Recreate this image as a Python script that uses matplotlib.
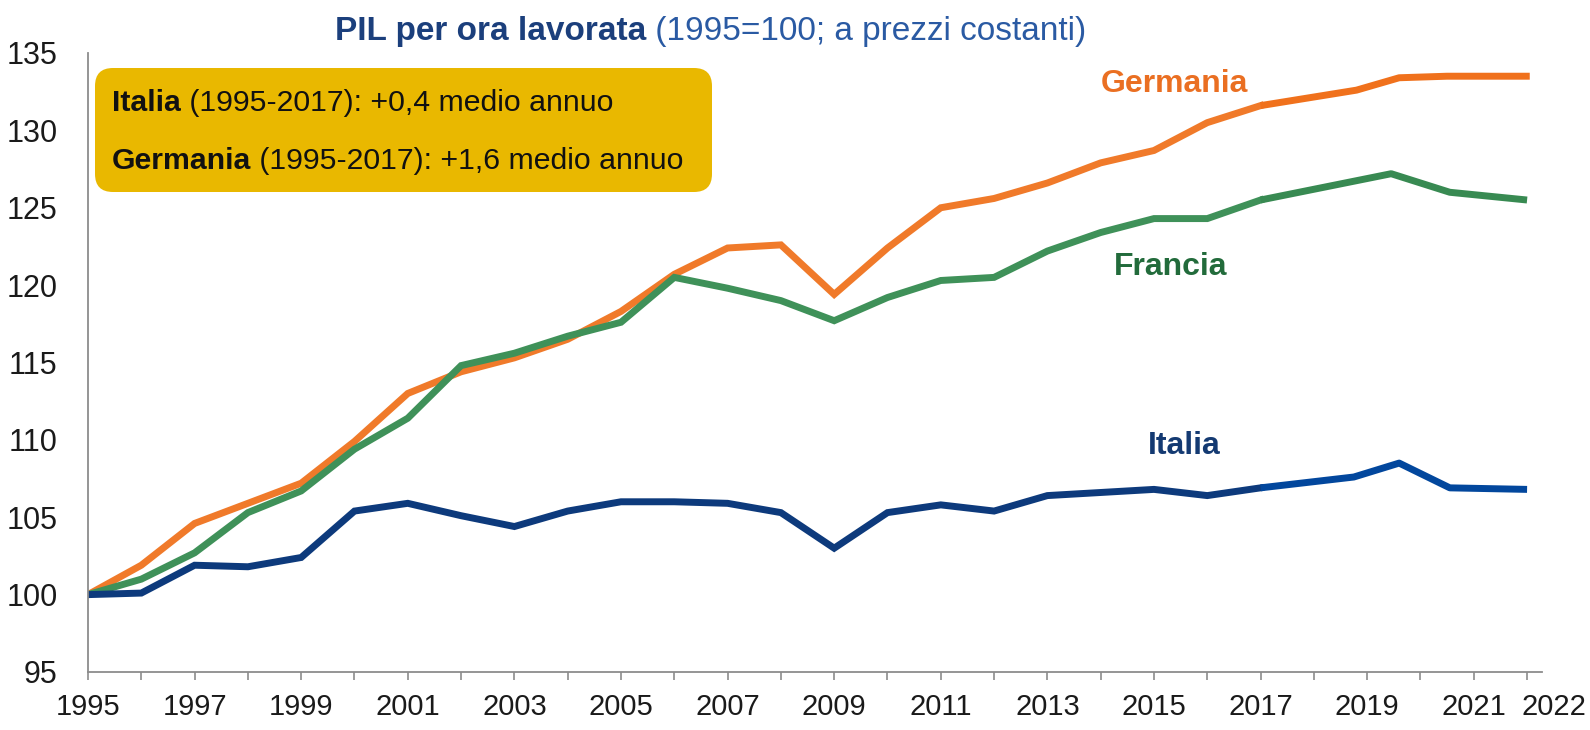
import numpy as np
import matplotlib
matplotlib.use("Agg")
import matplotlib.pyplot as plt
from matplotlib import font_manager
from matplotlib.patches import FancyBboxPatch
from matplotlib.transforms import ScaledTranslation

# pick a narrow arial-like font if there is one
names = {f.name for f in font_manager.fontManager.ttflist}
narrow = 'Liberation Sans Narrow' if 'Liberation Sans Narrow' in names else 'Liberation Sans'

# data, 1995=100
years = list(range(1995, 2018))
italia = [100.0, 100.1, 101.9, 101.8, 102.4, 105.4, 105.9, 105.1, 104.4, 105.4, 106.0, 106.0,
          105.9, 105.3, 103.0, 105.3, 105.8, 105.4, 106.4, 106.6, 106.8, 106.4, 106.9]
germania = [100.0, 101.9, 104.6, 105.9, 107.2, 109.9, 113.0, 114.4, 115.3, 116.5, 118.3, 120.7,
            122.4, 122.6, 119.4, 122.4, 125.0, 125.6, 126.6, 127.9, 128.7, 130.5, 131.6]
francia = [100.0, 101.0, 102.7, 105.3, 106.7, 109.4, 111.4, 114.8, 115.6, 116.7, 117.6, 120.5,
           119.8, 119.0, 117.7, 119.2, 120.3, 120.5, 122.2, 123.4, 124.3, 124.3, 125.5]

# hand-drawn extension after 2017 (x)
italia_ext_x = [2017, 2018.75, 2019.6, 2020.55, 2022.0]
italia_ext = [106.9, 107.6, 108.5, 106.9, 106.8]
germania_ext_x = [2017, 2018.8, 2019.6, 2020.5, 2022.05]
germania_ext = [131.6, 132.6, 133.4, 133.5, 133.5]
francia_ext_x = [2017, 2019.45, 2020.55, 2022.0]
francia_ext = [125.5, 127.2, 126.0, 125.5]

xtick_years = [1995, 1997, 1999, 2001, 2003, 2005, 2007, 2009, 2011, 2013, 2015, 2017, 2019, 2021, 2022]
yticks = [95, 100, 105, 110, 115, 120, 125, 130, 135]

c_ita, c_ita2 = '#0d3a7c', '#02479d'
c_ger, c_ger2 = '#f07a2a', '#f0711c'
c_fra, c_fra2 = '#3f9159', '#388a52'

fig = plt.figure(figsize=(15.9, 7.3), dpi=100)
ax = fig.add_axes([88/1590, 1-672/730, (1542-88)/1590, (672-53)/730])

lw = 5.0
ax.plot(years, germania, color=c_ger, lw=lw, solid_joinstyle='miter')
ax.plot(years, francia, color=c_fra, lw=lw, solid_joinstyle='miter')
ax.plot(years, italia, color=c_ita, lw=lw, solid_joinstyle='miter')
ax.plot(germania_ext_x, germania_ext, color=c_ger2, lw=lw, solid_capstyle='butt')
ax.plot(francia_ext_x, francia_ext, color=c_fra2, lw=lw, solid_capstyle='butt')
ax.plot(italia_ext_x, italia_ext, color=c_ita2, lw=lw, solid_capstyle='butt')

ax.set_xlim(1995, 2022.28)
ax.set_ylim(95, 135)
ax.set_xticks(range(1995, 2023))
ax.set_xticklabels([str(y) if y in xtick_years else '' for y in range(1995, 2023)])
ax.set_yticks(yticks)
for sp in ['top', 'right']:
    ax.spines[sp].set_visible(False)
for sp in ['left', 'bottom']:
    ax.spines[sp].set_color('#8c8c8c')
    ax.spines[sp].set_linewidth(1.3)
ax.tick_params(axis='x', length=6, width=1.2, color='#8c8c8c', pad=9,
               labelsize=21, labelcolor='#1a1a1a')
ax.tick_params(axis='y', length=0, pad=22, labelsize=22, labelcolor='#1a1a1a')
for lab in ax.get_xticklabels() + ax.get_yticklabels():
    lab.set_fontfamily(narrow)
# 2022 sits too close to 2021, push it to the right of its tick
last = ax.get_xticklabels()[-1]
last.set_ha('left')
last.set_transform(last.get_transform() + ScaledTranslation(-0.06, 0, fig.dpi_scale_trans))

# series labels
ax.text(2015.38, 133.0, 'Germania', color='#ea6f22', fontsize=23, fontweight='bold',
        family=narrow, ha='center', va='center')
ax.text(2015.32, 121.2, 'Francia', color='#226b3b', fontsize=23, fontweight='bold',
        family=narrow, ha='center', va='center')
ax.text(2015.56, 109.6, 'Italia', color='#143a72', fontsize=23, fontweight='bold',
        family=narrow, ha='center', va='center')

# yellow box
box = FancyBboxPatch((0.95, 5.38), 6.17, 1.24, boxstyle='round,pad=0,rounding_size=0.18',
                     transform=fig.dpi_scale_trans, facecolor='#e9b800', edgecolor='none',
                     zorder=5)
fig.patches.append(box)


def two_part(x, y, bold, rest, size, c1, c2):
    # bold piece then normal piece right after it, same baseline
    tb = fig.text(x, y, bold, fontsize=size, fontweight='bold', family=narrow,
                  color=c1, ha='left', va='baseline', zorder=6)
    fig.canvas.draw()
    bb = tb.get_window_extent()
    fig.text(bb.x1 / fig.bbox.width, y, rest, fontsize=size, family=narrow,
             color=c2, ha='left', va='baseline', zorder=6)


# title
two_part(335/1590, 1-40/730, 'PIL per ora lavorata', ' (1995=100; a prezzi costanti)',
         24, '#1b3f7c', '#2a5aa3')

# box text
two_part(112/1590, 1-111/730, 'Italia', ' (1995-2017): +0,4 medio annuo', 21.8,
         '#111111', '#111111')
two_part(112/1590, 1-169/730, 'Germania', ' (1995-2017): +1,6 medio annuo', 21.8,
         '#111111', '#111111')

fig.savefig('out.png', dpi=100)
